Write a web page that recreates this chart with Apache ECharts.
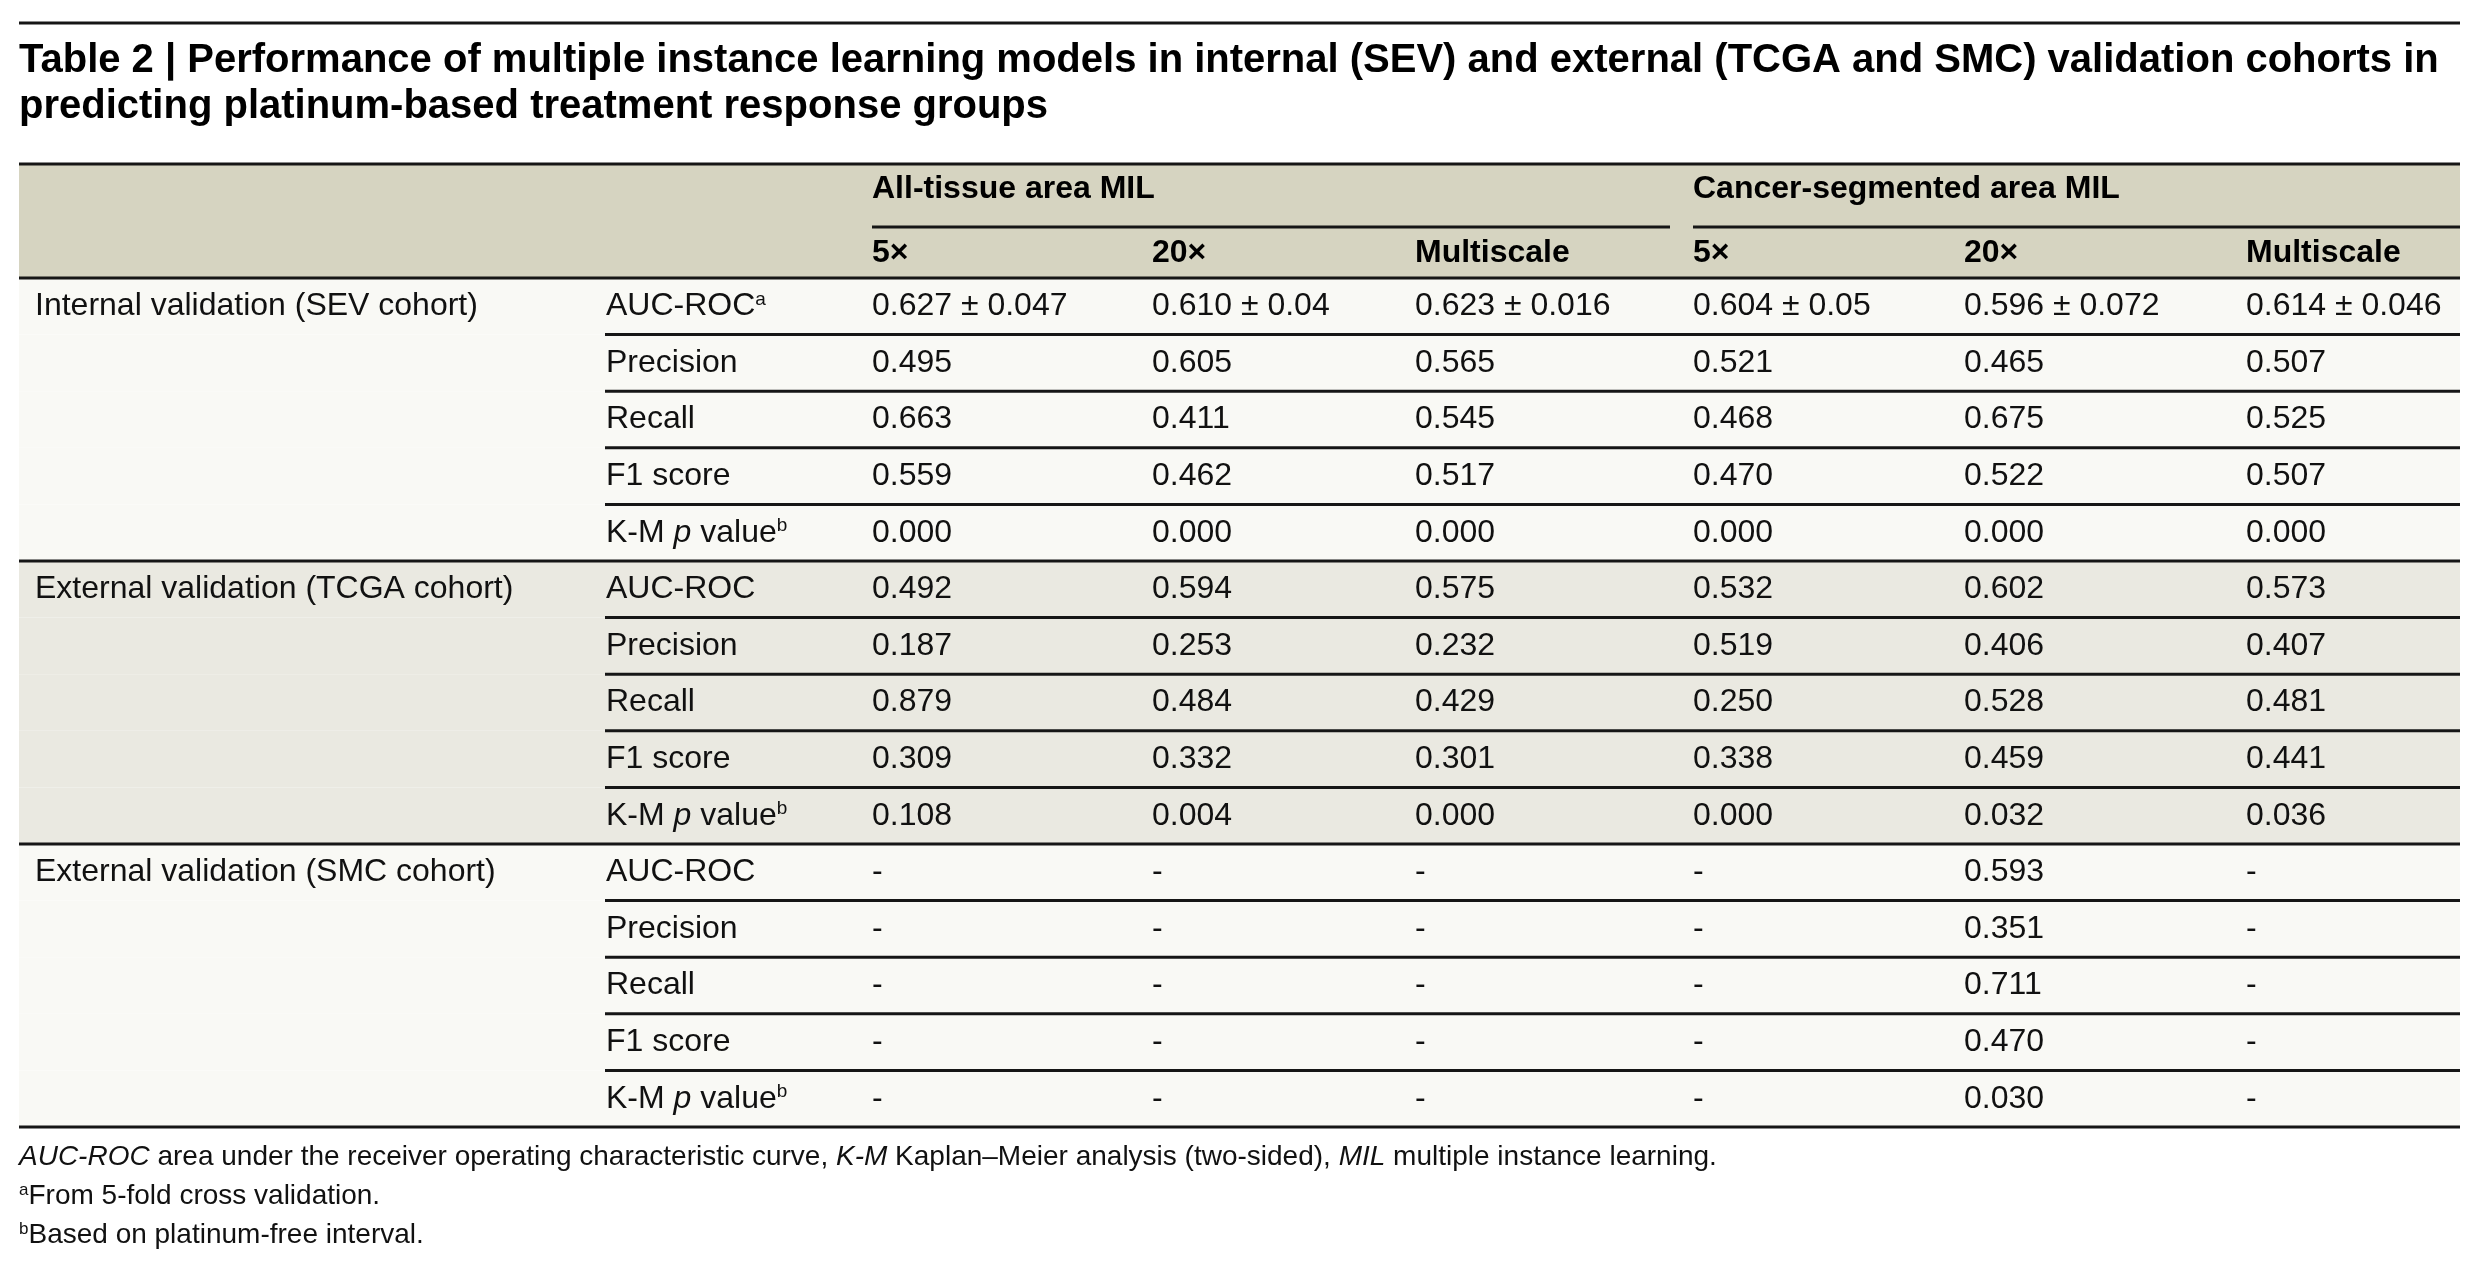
<!DOCTYPE html>
<html>
<head>
<meta charset="utf-8">
<script src="https://cdn.jsdelivr.net/npm/echarts@6/dist/echarts.min.js"></script>
<style>html,body{margin:0;padding:0;background:#fff}#c{width:2492px;height:1262px}</style>
</head>
<body>
<div id="c"></div>
<script>
// ---------- data ----------
const titleLines = [
  'Table 2 | Performance of multiple instance learning models in internal (SEV) and external (TCGA and SMC) validation cohorts in',
  'predicting platinum-based treatment response groups'
];
const modelGroups = ['All-tissue area MIL', 'Cancer-segmented area MIL'];
const scales = ['5×', '20×', 'Multiscale', '5×', '20×', 'Multiscale'];
const cohorts = ['Internal validation (SEV cohort)', 'External validation (TCGA cohort)', 'External validation (SMC cohort)'];
const metrics = ['AUC-ROC', 'Precision', 'Recall', 'F1 score', 'K-M p value'];
const aucNotes = ['a', '', ''];
const kmNote = 'b';
const sevValues = [
  ['0.627 ± 0.047', '0.610 ± 0.04', '0.623 ± 0.016', '0.604 ± 0.05', '0.596 ± 0.072', '0.614 ± 0.046'],
  ['0.495', '0.605', '0.565', '0.521', '0.465', '0.507'],
  ['0.663', '0.411', '0.545', '0.468', '0.675', '0.525'],
  ['0.559', '0.462', '0.517', '0.470', '0.522', '0.507'],
  ['0.000', '0.000', '0.000', '0.000', '0.000', '0.000']
];
const tcgaValues = [
  ['0.492', '0.594', '0.575', '0.532', '0.602', '0.573'],
  ['0.187', '0.253', '0.232', '0.519', '0.406', '0.407'],
  ['0.879', '0.484', '0.429', '0.250', '0.528', '0.481'],
  ['0.309', '0.332', '0.301', '0.338', '0.459', '0.441'],
  ['0.108', '0.004', '0.000', '0.000', '0.032', '0.036']
];
const smcValues = [
  ['-', '-', '-', '-', '0.593', '-'],
  ['-', '-', '-', '-', '0.351', '-'],
  ['-', '-', '-', '-', '0.711', '-'],
  ['-', '-', '-', '-', '0.470', '-'],
  ['-', '-', '-', '-', '0.030', '-']
];
const footnotes = [
  '{i|AUC-ROC} area under the receiver operating characteristic curve, {i|K-M} Kaplan–Meier analysis (two-sided), {i|MIL} multiple instance learning.',
  '{s|a}From 5-fold cross validation.',
  '{s|b}Based on platinum-free interval.'
];

// ---------- layout ----------
const FF = '"Liberation Sans", Arial, sans-serif';
const FS = 32;
const TXT = '#111111';
const LINE = '#161616';
const L = 19, R = 2460;
const COLX = [35, 606, 872, 1152, 1415, 1693, 1964, 2246];
const TABLE_TOP = 278, TABLE_BOTTOM = 1127;
const allValues = [sevValues, tcgaValues, smcValues];
const rowNames = [];
cohorts.forEach(c => metrics.forEach(m => rowNames.push(c + ' · ' + m)));

const richBase = {
  n: { fontSize: FS, fontFamily: FF, color: TXT },
  i: { fontSize: FS, fontFamily: FF, fontStyle: 'italic', color: TXT },
  s: { fontSize: 19, fontFamily: FF, color: TXT, verticalAlign: 'top' }
};

function metricText(g, m) {
  if (m === 0) return '{n|AUC-ROC}' + (aucNotes[g] ? '{s|' + aucNotes[g] + '}' : '');
  if (m === 4) return '{n|K-M }{i|p}{n| value}{s|' + kmNote + '}';
  return '{n|' + metrics[m] + '}';
}

function txt(s, x, y, extra) {
  return Object.assign({
    type: 'text', x: x, y: y, z2: 5,
    style: { text: s, fill: TXT, font: FS + 'px ' + FF, align: 'left', verticalAlign: 'middle' }
  }, extra || {});
}

function renderItem(params, api) {
  const r = api.value(1);
  const p = api.coord([0, r]);
  const h = api.size([0, 1])[1];
  const cs = params.coordSys;
  const top = p[1] - h / 2, cy = p[1];
  const g = Math.floor(r / 5), m = r % 5;
  const children = [];
  children.push({ type: 'rect', z2: 0, shape: { x: cs.x, y: top, width: cs.width, height: h },
    style: { fill: g === 1 ? '#eae9e1' : '#f9f9f5' } });
  if (m === 0) children.push(txt(cohorts[g], COLX[0], cy));
  children.push({ type: 'text', x: COLX[1], y: cy, z2: 5,
    style: { text: metricText(g, m), rich: richBase, fill: TXT, font: FS + 'px ' + FF, align: 'left', verticalAlign: 'middle' } });
  const vals = allValues[g][m];
  vals.forEach((v, k) => children.push(txt(v, COLX[2 + k], cy)));
  const last = m === 4;
  children.push({ type: 'line', z2: 10,
    shape: { x1: last ? cs.x : COLX[1] - 1, y1: top + h, x2: cs.x + cs.width, y2: top + h },
    style: { stroke: LINE, lineWidth: 3 } });
  return { type: 'group', children: children };
}

// ---------- header graphics ----------
const graphic = [];
graphic.push({ type: 'line', shape: { x1: L, y1: 23, x2: R, y2: 23 }, style: { stroke: LINE, lineWidth: 3 } });
titleLines.forEach((t, i) => graphic.push({
  type: 'text', x: L, y: 61 + i * 46,
  style: { text: t, fill: '#000', font: 'bold 40px ' + FF, align: 'left', verticalAlign: 'middle' }
}));
graphic.push({ type: 'rect', shape: { x: L, y: 163, width: R - L, height: TABLE_TOP - 163 }, style: { fill: '#d6d4c1' } });
graphic.push({ type: 'line', shape: { x1: L, y1: 164, x2: R, y2: 164 }, style: { stroke: LINE, lineWidth: 3 } });
graphic.push({ type: 'line', shape: { x1: L, y1: TABLE_TOP, x2: R, y2: TABLE_TOP }, style: { stroke: LINE, lineWidth: 3 }, z: 100 });
modelGroups.forEach((t, i) => {
  const x0 = COLX[2 + i * 3];
  const x1 = i === 0 ? COLX[5] - 23 : R;
  graphic.push({ type: 'text', x: x0, y: 189, style: { text: t, fill: '#000', font: 'bold ' + FS + 'px ' + FF, align: 'left', verticalAlign: 'middle' } });
  graphic.push({ type: 'line', shape: { x1: x0, y1: 227, x2: x1, y2: 227 }, style: { stroke: LINE, lineWidth: 3 } });
});
scales.forEach((t, k) => graphic.push({
  type: 'text', x: COLX[2 + k], y: 253,
  style: { text: t, fill: '#000', font: 'bold ' + FS + 'px ' + FF, align: 'left', verticalAlign: 'middle' }
}));
footnotes.forEach((t, i) => graphic.push({
  type: 'text', x: L, y: 1157 + i * 39,
  style: { text: t, fill: TXT, font: '28px ' + FF, align: 'left', verticalAlign: 'middle',
    rich: {
      i: { fontSize: 28, fontFamily: FF, fontStyle: 'italic', color: TXT },
      s: { fontSize: 17, fontFamily: FF, color: TXT, verticalAlign: 'top' }
    } }
}));

const chart = echarts.init(document.getElementById('c'), null, { renderer: 'canvas' });
chart.setOption({
  animation: false,
  backgroundColor: '#ffffff',
  grid: { left: L, right: 2492 - R, top: TABLE_TOP, height: TABLE_BOTTOM - TABLE_TOP, containLabel: false },
  xAxis: { type: 'value', min: 0, max: 1, show: false },
  yAxis: { type: 'category', data: rowNames, inverse: true, show: false, boundaryGap: true },
  series: [{
    type: 'custom',
    renderItem: renderItem,
    encode: { x: 0, y: 1 },
    data: rowNames.map((n, i) => [0, i]),
    silent: true
  }],
  graphic: graphic
});
</script>
</body>
</html>
